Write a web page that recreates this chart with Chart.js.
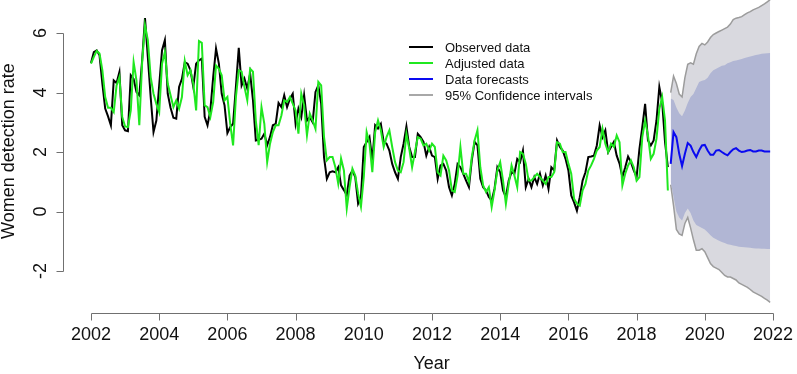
<!DOCTYPE html>
<html>
<head>
<meta charset="utf-8">
<script src="https://cdn.jsdelivr.net/npm/chart.js@4.4.1/dist/chart.umd.min.js"></script>
<style>
  html, body { margin: 0; padding: 0; background: #fff; }
  #wrap { width: 797px; height: 374px; }
</style>
</head>
<body>
<div id="wrap"><canvas id="chart" width="797" height="374"></canvas></div>
<script>
// monthly series, Jan 2002 - Dec 2018
const obsStart = 2002;
const observed = [
  4.99, 5.36, 5.42, 5.25, 4.30, 3.46, 3.20, 2.90, 4.41, 4.32, 4.69, 2.90,
  2.73, 2.70, 4.58, 4.46, 4.02, 3.91, 5.08, 6.50, 5.20, 3.85, 2.67, 3.06,
  4.24, 5.42, 5.76, 3.96, 3.49, 3.15, 3.12, 4.19, 4.46, 5.02, 4.97, 4.75,
  4.19, 4.97, 5.08, 5.14, 3.18, 2.90, 3.40, 4.52, 5.48, 4.97, 3.96, 3.57,
  2.64, 2.84, 2.95, 4.20, 5.50, 4.24, 4.47, 4.13, 4.64, 3.74, 2.39, 2.41,
  2.45, 2.62, 2.23, 2.51, 2.90, 2.95, 3.65, 3.51, 3.91, 3.51, 3.79, 3.96,
  2.95, 3.46, 3.17, 3.91, 3.06, 3.17, 3.00, 4.02, 4.24, 3.63, 1.83, 1.10,
  1.32, 1.35, 1.32, 1.49, 0.88, 0.72, 0.55, 1.21, 1.38, 1.16, 0.27, 0.49,
  2.17, 2.34, 2.51, 1.72, 2.90, 2.79, 2.95, 2.34, 2.28, 2.05, 1.60, 1.32,
  1.10, 1.83, 2.28, 2.86, 2.17, 1.83, 1.83, 2.61, 2.50, 2.34, 1.88, 2.17,
  1.88, 1.83, 1.10, 1.55, 1.60, 1.38, 0.82, 0.54, 0.93, 1.60, 1.49, 1.27,
  1.04, 0.82, 1.72, 2.34, 2.22, 1.10, 0.82, 0.71, 0.49, 0.37, 0.76, 1.49,
  1.32, 0.71, 0.49, 1.04, 1.32, 1.27, 1.77, 1.66, 2.05, 0.82, 1.10, 0.82,
  1.16, 0.93, 1.27, 0.88, 1.21, 0.76, 1.49, 1.38, 2.39, 2.17, 2.05, 1.77,
  1.38, 0.54, 0.31, 0.03, 0.48, 1.04, 1.32, 1.83, 1.85, 1.88, 2.22, 2.90,
  2.50, 2.73, 2.00, 2.17, 2.34, 1.88, 1.61, 1.16, 1.49, 1.85, 1.66, 1.38,
  1.16, 2.11, 2.84, 3.62, 2.39, 2.22, 2.39, 3.06, 4.19, 3.68, 2.34, 1.49
];
const adjusted = [
  4.97, 5.20, 5.40, 5.31, 4.75, 3.85, 3.49, 3.49, 3.34, 4.24, 4.52, 3.18,
  2.86, 2.84, 3.40, 5.02, 4.41, 2.90, 5.02, 6.26, 5.76, 4.52, 3.96, 3.62,
  3.34, 4.97, 5.36, 4.30, 3.91, 3.51, 3.74, 3.46, 3.85, 5.06, 4.58, 4.75,
  4.30, 3.40, 5.73, 5.67, 3.57, 3.51, 3.18, 3.68, 4.91, 4.80, 4.58, 3.74,
  3.85, 2.95, 2.22, 3.85, 4.75, 4.70, 4.19, 3.74, 4.80, 4.70, 3.06, 2.23,
  3.51, 2.95, 1.66, 2.28, 2.67, 2.90, 2.90, 3.23, 3.74, 3.68, 3.85, 3.63,
  3.40, 2.62, 3.96, 3.57, 2.56, 3.29, 3.06, 2.78, 4.36, 4.24, 2.51, 1.72,
  1.83, 1.83, 1.49, 0.94, 1.78, 1.38, 0.10, 0.83, 1.44, 1.21, 0.60, 0.16,
  1.16, 2.67, 2.28, 1.32, 2.67, 3.06, 2.73, 2.17, 2.50, 2.73, 2.17, 1.66,
  1.38, 1.32, 1.66, 2.61, 2.11, 1.49, 2.00, 2.50, 2.45, 2.22, 2.28, 2.05,
  2.28, 2.17, 1.32, 1.21, 1.88, 1.72, 1.38, 0.71, 0.66, 1.21, 2.17, 1.27,
  1.27, 0.99, 1.83, 2.39, 2.73, 1.49, 0.88, 0.66, 0.82, 0.15, 0.71, 1.38,
  1.66, 1.04, 0.26, 0.93, 1.55, 1.21, 0.82, 2.00, 1.94, 1.61, 1.04, 1.04,
  1.16, 1.27, 1.16, 1.04, 0.93, 1.16, 1.16, 1.32, 2.33, 2.28, 2.00, 2.00,
  1.61, 1.27, 0.43, 0.26, 0.20, 0.71, 0.93, 1.38, 1.55, 1.77, 2.05, 2.17,
  2.78, 2.28, 2.00, 2.28, 2.17, 2.56, 2.33, 0.88, 1.27, 1.55, 1.72, 1.49,
  1.04, 1.16, 2.50, 3.06, 2.56, 1.77, 1.94, 2.45, 3.45, 3.85, 3.06, 0.71
];

// forecasts, Jan 2019 - Dec 2021
const fcStart = 2019;
const forecast = [
  1.60, 2.67, 2.50, 1.94, 1.53, 1.94, 2.30, 2.22, 2.00, 1.83, 2.05, 2.22,
  2.24, 2.05, 1.91, 1.91, 2.05, 2.07, 2.00, 1.94, 1.89, 2.00, 2.09, 2.13,
  2.05, 2.00, 2.02, 2.05, 2.07, 2.02, 2.02, 2.05, 2.05, 2.02, 2.02, 2.02
];
const upper95 = [
  4.00, 4.55, 4.30, 3.95, 3.85, 4.50, 4.95, 5.00, 4.95, 5.30, 5.55, 5.65,
  5.60, 5.70, 5.85, 5.95, 6.00, 6.05, 6.10, 6.15, 6.20, 6.30, 6.45, 6.50,
  6.52, 6.55, 6.62, 6.68, 6.72, 6.78, 6.82, 6.86, 6.92, 6.98, 7.05, 7.12
];
const lower95 = [
  0.90, 0.20, -0.60, -0.75, -0.80, -0.40, -0.20, -0.55, -0.95, -1.30, -1.30, -1.25,
  -1.35, -1.55, -1.75, -1.85, -1.90, -1.95, -2.05, -2.15, -2.20, -2.20, -2.25, -2.30,
  -2.40, -2.45, -2.50, -2.55, -2.62, -2.70, -2.75, -2.80, -2.85, -2.92, -2.98, -3.05
];
const upper80 = [
  3.80, 3.75, 3.50, 3.30, 3.20, 3.40, 3.65, 3.85, 3.95, 4.15, 4.35, 4.40,
  4.42, 4.50, 4.65, 4.75, 4.80, 4.85, 4.90, 4.92, 4.98, 5.02, 5.06, 5.08,
  5.10, 5.13, 5.16, 5.19, 5.21, 5.24, 5.26, 5.28, 5.30, 5.31, 5.32, 5.33
];
const lower80 = [
  1.00, 0.50, 0.00, -0.20, -0.30, -0.05, 0.10, -0.05, -0.30, -0.45, -0.50, -0.55,
  -0.60, -0.70, -0.80, -0.88, -0.93, -0.98, -1.02, -1.06, -1.10, -1.12, -1.14, -1.16,
  -1.18, -1.19, -1.20, -1.21, -1.22, -1.23, -1.24, -1.24, -1.25, -1.25, -1.26, -1.26
];

const xTicks = [2002, 2004, 2006, 2008, 2010, 2012, 2014, 2016, 2018, 2020, 2022];
const yTicks = [-2, 0, 2, 4, 6];
const legendItems = [
  { text: 'Observed data', color: '#000000' },
  { text: 'Adjusted data', color: '#1fe81f' },
  { text: 'Data forecasts', color: '#0a0af0' },
  { text: '95% Confidence intervals', color: '#a8a8a8' }
];

const monthly = (start, arr) => arr.map((v, i) => ({ x: start + i / 12, y: v }));
const FONT = '"Liberation Sans", Arial, sans-serif';

// R style detached axes, titles and legend
const rAxes = {
  id: 'rAxes',
  afterDraw(chart) {
    const { ctx, chartArea } = chart;
    const xs = chart.scales.x, ys = chart.scales.y;
    ctx.save();
    ctx.strokeStyle = '#707070';
    ctx.lineWidth = 1;

    // x axis
    const ax = chartArea.bottom + 0.5;
    ctx.beginPath();
    ctx.moveTo(Math.round(xs.getPixelForValue(xTicks[0])) + 0.5, ax);
    ctx.lineTo(Math.round(xs.getPixelForValue(xTicks[xTicks.length - 1])) + 0.5, ax);
    xTicks.forEach(t => {
      const px = Math.round(xs.getPixelForValue(t)) + 0.5;
      ctx.moveTo(px, ax);
      ctx.lineTo(px, ax + 7);
    });
    ctx.stroke();

    // y axis
    const ay = chartArea.left + 0.5;
    ctx.beginPath();
    ctx.moveTo(ay, Math.round(ys.getPixelForValue(yTicks[0])) + 0.5);
    ctx.lineTo(ay, Math.round(ys.getPixelForValue(yTicks[yTicks.length - 1])) + 0.5);
    yTicks.forEach(t => {
      const py = Math.round(ys.getPixelForValue(t)) + 0.5;
      ctx.moveTo(ay, py);
      ctx.lineTo(ay - 7, py);
    });
    ctx.stroke();

    ctx.fillStyle = '#111';
    ctx.font = '18px ' + FONT;
    ctx.textAlign = 'center';
    ctx.textBaseline = 'middle';
    xTicks.forEach(t => ctx.fillText(String(t), xs.getPixelForValue(t), 335));
    yTicks.forEach(t => {
      ctx.save();
      ctx.translate(41, ys.getPixelForValue(t));
      ctx.rotate(-Math.PI / 2);
      ctx.fillText(String(t), 0, 0);
      ctx.restore();
    });

    // titles
    ctx.fillText('Year', (chartArea.left + xs.getPixelForValue(2022.8)) / 2, 364);
    ctx.save();
    ctx.translate(9, 151);
    ctx.rotate(-Math.PI / 2);
    ctx.fillText('Women detection rate', 0, 0);
    ctx.restore();

    // legend
    ctx.font = '13px ' + FONT;
    ctx.textAlign = 'left';
    legendItems.forEach((it, i) => {
      const ly = 47 + i * 16;
      ctx.strokeStyle = it.color;
      ctx.lineWidth = 2;
      ctx.beginPath();
      ctx.moveTo(409, ly);
      ctx.lineTo(433, ly);
      ctx.stroke();
      ctx.fillStyle = '#111';
      ctx.fillText(it.text, 445, ly + 1);
    });
    ctx.restore();
  }
};

new Chart(document.getElementById('chart'), {
  type: 'line',
  data: {
    datasets: [
      { label: 'Adjusted data', data: monthly(obsStart, adjusted), borderColor: '#1fe81f', borderWidth: 2, pointRadius: 0, fill: false },
      { label: 'Observed data', data: monthly(obsStart, observed), borderColor: '#000000', borderWidth: 2, pointRadius: 0, fill: false },
      { label: 'Data forecasts', data: monthly(fcStart, forecast), borderColor: '#0a0af0', borderWidth: 2, pointRadius: 0, fill: false },
      { label: 'lo80', data: monthly(fcStart, lower80), borderWidth: 0, pointRadius: 0, fill: false },
      { label: 'hi80', data: monthly(fcStart, upper80), borderWidth: 0, pointRadius: 0, fill: { target: 3 }, backgroundColor: '#b1b6d4' },
      { label: 'lo95', data: monthly(fcStart, lower95), borderColor: '#9c9c9c', borderWidth: 1.5, pointRadius: 0, fill: false },
      { label: 'hi95', data: monthly(fcStart, upper95), borderColor: '#9c9c9c', borderWidth: 1.5, pointRadius: 0, fill: { target: 5 }, backgroundColor: '#d9d9df' }
    ]
  },
  options: {
    responsive: false,
    animation: false,
    layout: { padding: { left: 63, right: 0, top: 0, bottom: 61 } },
    scales: {
      x: { type: 'linear', min: 2001.179, max: 2022.704, display: false },
      y: { min: -3.41, max: 7.11, display: false }
    },
    plugins: { legend: { display: false }, tooltip: { enabled: false } },
    elements: { line: { tension: 0 } }
  },
  plugins: [rAxes]
});
</script>
</body>
</html>
